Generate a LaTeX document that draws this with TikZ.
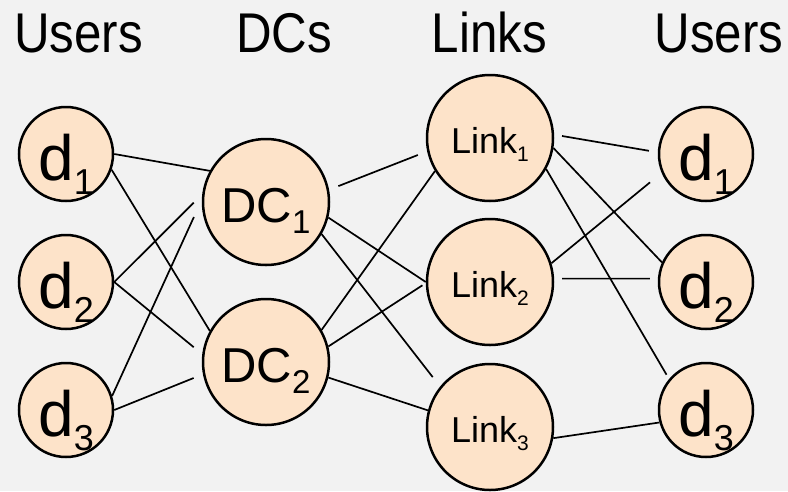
\documentclass[tikz,border=0pt]{standalone}
\usepackage{fontspec}
\setmainfont{Liberation Sans}
\newfontfamily\headfont[FakeStretch=0.88]{Liberation Sans}
\definecolor{peach}{RGB}{253,227,201}
\definecolor{bggray}{RGB}{242,242,242}
\newcommand{\lowidx}[3]{\raisebox{-#1pt}{\fontsize{#2}{#2}\selectfont #3}}

\begin{document}
\begin{tikzpicture}[x=1pt,y=-1pt,
  user/.style={circle,draw,line width=2.5pt,fill=peach,minimum size=94pt,inner sep=0pt,
    font=\fontsize{64}{64}\selectfont,text height=60pt,text depth=8pt},
  dcnode/.style={circle,draw,line width=2.5pt,fill=peach,minimum size=126pt,inner sep=0pt,
    font=\fontsize{49}{49}\selectfont,text height=46pt,text depth=6pt},
  linknode/.style={circle,draw,line width=2.5pt,fill=peach,minimum size=126pt,inner sep=0pt,
    font=\fontsize{36}{36}\selectfont,text height=34pt,text depth=4pt},
  head/.style={font=\headfont\fontsize{56}{56}\selectfont,anchor=base,inner sep=0pt},
  wire/.style={line width=1.7pt}]
\fill[bggray](0,0)rectangle(788,491);
\useasboundingbox (0,0) rectangle (788,491);

% column titles
\node[head] (h1) at (78.5,52) {Users};
\node[head] (h2) at (284,52) {DCs};
\node[head] (h3) at (489.5,52) {Links};
\node[head] (h4) at (719,52) {Users};

% users (left)
\node[user] (u1) at (66,154) {d\lowidx{14}{36}{1}};
\node[user] (u2) at (66,282) {d\lowidx{14}{36}{2}};
\node[user] (u3) at (66,410) {d\lowidx{14}{36}{3}};

% data centers
\node[dcnode] (dc1) at (266,202) {DC\lowidx{11}{33}{1}};
\node[dcnode] (dc2) at (266,362) {DC\lowidx{11}{33}{2}};

% links
\node[linknode] (ln1) at (490,138) {Link\lowidx{8}{21}{1}};
\node[linknode] (ln2) at (490,282) {Link\lowidx{8}{21}{2}};
\node[linknode] (ln3) at (490,427) {Link\lowidx{8}{21}{3}};

% users (right)
\node[user] (v1) at (706,154) {d\lowidx{14}{36}{1}};
\node[user] (v2) at (706,282) {d\lowidx{14}{36}{2}};
\node[user] (v3) at (706,410) {d\lowidx{14}{36}{3}};

% users -> DCs
\draw[wire](u1.0)--(dc1.151);
\draw[wire](u1.-19)--(dc2.151);
\draw[wire,shorten >=12pt](u2.0)--(dc1.173);
\draw[wire,shorten >=11pt](u2.0)--(dc2.173);
\draw[wire,shorten >=19pt](u3.17)--(dc1.178);
\draw[wire,shorten >=10pt](u3.0)--(dc2.191);

% DCs -> links
\draw[wire,shorten <=10pt,shorten >=10pt](dc1.11)--(ln1.192);
\draw[wire](dc1.-14)--(ln2.180);
\draw[wire,shorten >=12pt](dc1.-30)--(ln3.141);
\draw[wire](dc2.30)--(ln1.211);
\draw[wire,shorten >=4pt](dc2.14)--(ln2.181);
\draw[wire](dc2.-14)--(ln3.165);

% links -> users
\draw[wire,shorten <=8pt,shorten >=9pt](ln1.3)--(v1.178);
\draw[wire](ln1.-9)--(v2.156);
\draw[wire,shorten >=5pt](ln1.-29)--(v3.140);
\draw[wire,shorten >=15pt](ln2.17)--(v1.203);
\draw[wire,shorten <=8pt,shorten >=8pt](ln2.3)--(v2.176);
\draw[wire](ln3.-10)--(v3.195);
\end{tikzpicture}
\end{document}
